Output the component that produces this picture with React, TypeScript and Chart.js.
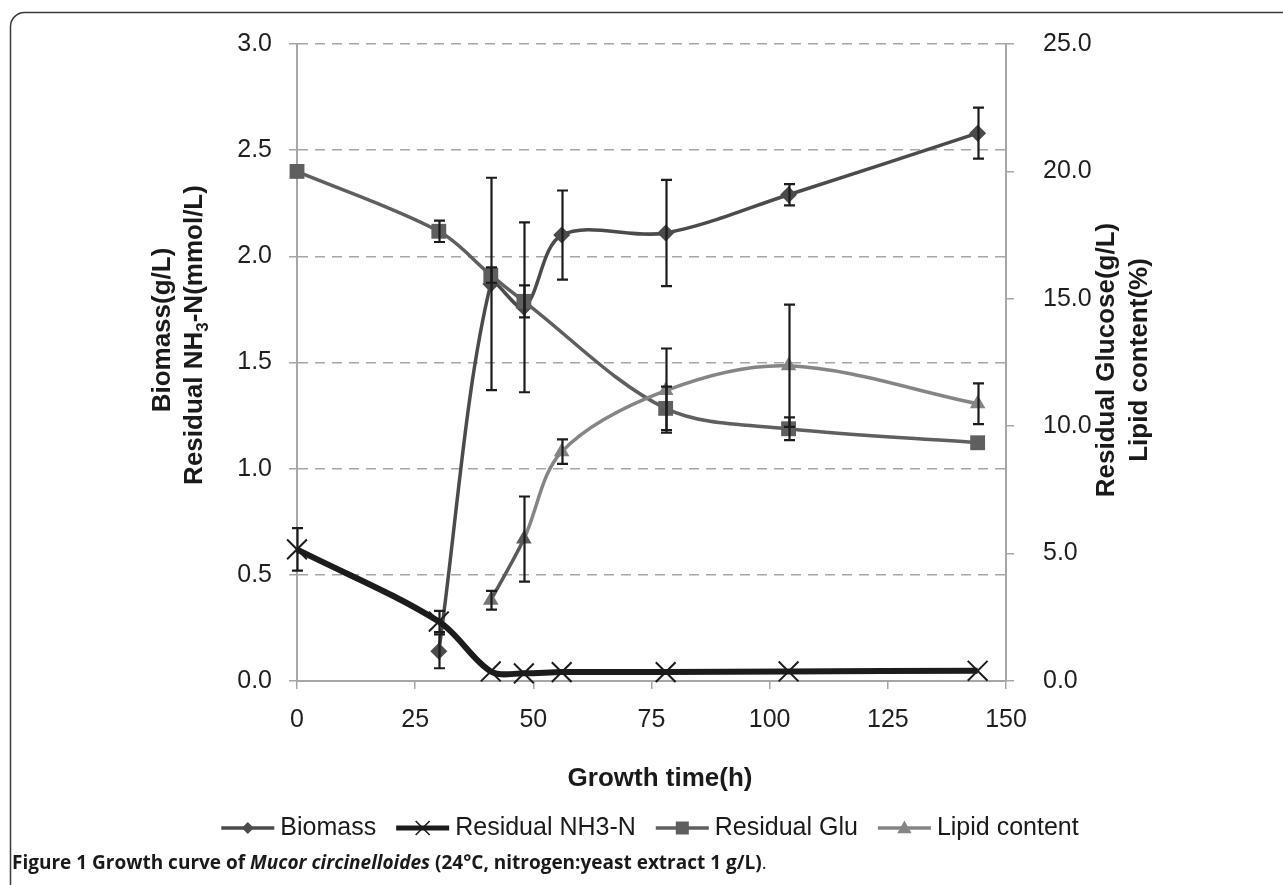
import React, { useEffect, useRef } from 'react';
import { Chart, registerables } from 'chart.js';

Chart.register(...registerables);

// ---- data ----
const biomassTimes = [30, 41, 48, 56, 78, 104, 144];
const biomassValues = [0.14, 1.87, 1.76, 2.1, 2.11, 2.29, 2.58];
const biomassErrors = [0.08, 0.5, 0.4, 0.21, 0.25, 0.05, 0.12];

const nh3Times = [0, 30, 41, 48, 56, 78, 104, 144];
const nh3Values = [0.62, 0.28, 0.045, 0.036, 0.042, 0.042, 0.045, 0.048];
const nh3Errors = [0.1, 0.05, 0, 0, 0, 0, 0, 0];

const gluTimes = [0, 30, 41, 48, 78, 104, 144];
const gluValues = [20.0, 17.65, 15.93, 14.9, 10.7, 9.9, 9.35];
const gluErrors = [0, 0.42, 0.3, 0.63, 0.85, 0.45, 0];

const lipidTimes = [41, 48, 56, 78, 104, 144];
const lipidValues = [3.17, 5.57, 9.0, 11.4, 12.37, 10.88];
const lipidErrors = [0.37, 1.67, 0.48, 1.65, 2.4, 0.8];

const seriesNames = ['Biomass', 'Residual NH3-N', 'Residual Glu', 'Lipid content'];
const xTitle = 'Growth time(h)';
const leftTitleLine1 = 'Biomass(g/L)';
const rightTitleLines = ['Residual Glucose(g/L)', 'Lipid content(%)'];

const W = 1283;
const H = 885;
const AREA = { left: 297, right: 1006, top: 39, bottom: 681 };

const toPoints = (xs: number[], ys: number[]) => xs.map((x, i) => ({ x, y: ys[i] }));

const FONT = '"Liberation Sans", Arial, sans-serif';

function drawMarker(ctx: CanvasRenderingContext2D, style: string, x: number, y: number, r: number, color: string, lw: number) {
  ctx.save();
  ctx.fillStyle = color;
  ctx.strokeStyle = color;
  ctx.lineWidth = lw;
  ctx.beginPath();
  if (style === 'rectRot') {
    ctx.moveTo(x, y - r);
    ctx.lineTo(x + r, y);
    ctx.lineTo(x, y + r);
    ctx.lineTo(x - r, y);
    ctx.closePath();
    ctx.fill();
  } else if (style === 'rect') {
    ctx.rect(x - r, y - r, 2 * r, 2 * r);
    ctx.fill();
  } else if (style === 'triangle') {
    ctx.moveTo(x, y - r);
    ctx.lineTo(x + r * 0.95, y + r * 0.7);
    ctx.lineTo(x - r * 0.95, y + r * 0.7);
    ctx.closePath();
    ctx.fill();
  } else if (style === 'crossRot') {
    ctx.moveTo(x - r, y - r);
    ctx.lineTo(x + r, y + r);
    ctx.moveTo(x + r, y - r);
    ctx.lineTo(x - r, y + r);
    ctx.stroke();
  }
  ctx.restore();
}

const errorBarPlugin = {
  id: 'errorBars',
  afterDatasetsDraw(chart: any) {
    const ctx = chart.ctx as CanvasRenderingContext2D;
    const xScale = chart.scales.x;
    chart.data.datasets.forEach((ds: any) => {
      const errs: number[] | undefined = ds.errorValues;
      if (!errs) return;
      const yScale = chart.scales[ds.yAxisID || 'y'];
      ds.data.forEach((pt: any, i: number) => {
        const e = errs[i];
        if (!e) return;
        const px = Math.round(xScale.getPixelForValue(pt.x)) + 0.5;
        const top = yScale.getPixelForValue(pt.y + e);
        const bot = yScale.getPixelForValue(pt.y - e);
        ctx.save();
        ctx.strokeStyle = '#1c1c1c';
        ctx.lineWidth = 2.2;
        ctx.beginPath();
        ctx.moveTo(px, top);
        ctx.lineTo(px, bot);
        ctx.moveTo(px - 5.5, top);
        ctx.lineTo(px + 5.5, top);
        ctx.moveTo(px - 5.5, bot);
        ctx.lineTo(px + 5.5, bot);
        ctx.stroke();
        ctx.restore();
      });
    });
  },
};

type Run = { text: string; font: string; dy?: number };

function drawRuns(ctx: CanvasRenderingContext2D, runs: Run[], x: number, y: number, align: 'left' | 'center') {
  let total = 0;
  const widths = runs.map((r) => {
    ctx.font = r.font;
    const w = ctx.measureText(r.text).width;
    total += w;
    return w;
  });
  let cx = align === 'center' ? x - total / 2 : x;
  runs.forEach((r, i) => {
    ctx.font = r.font;
    ctx.textAlign = 'left';
    ctx.fillText(r.text, cx, y + (r.dy || 0));
    cx += widths[i];
  });
}

const decorPlugin = {
  id: 'decor',
  afterDraw(chart: any) {
    const ctx = chart.ctx as CanvasRenderingContext2D;
    ctx.save();
    // outer rounded frame
    ctx.strokeStyle = '#3a3a3a';
    ctx.lineWidth = 1.5;
    ctx.beginPath();
    (ctx as any).roundRect(10.5, 12.5, 1320, 920, 14);
    ctx.stroke();

    ctx.fillStyle = '#1a1a1a';
    ctx.textBaseline = 'middle';
    const bold = `bold 26px ${FONT}`;

    // left title (rotated)
    ctx.save();
    ctx.translate(163, 330);
    ctx.rotate(-Math.PI / 2);
    drawRuns(ctx, [{ text: leftTitleLine1, font: bold }], 0, 0, 'center');
    ctx.restore();
    ctx.save();
    ctx.translate(195, 335);
    ctx.rotate(-Math.PI / 2);
    drawRuns(
      ctx,
      [
        { text: 'Residual NH', font: bold },
        { text: '3', font: `bold 17px ${FONT}`, dy: 8 },
        { text: '-N(mmol/L)', font: bold },
      ],
      0,
      0,
      'center'
    );
    ctx.restore();

    // right title
    [1107, 1140].forEach((cx, i) => {
      ctx.save();
      ctx.translate(cx, 360);
      ctx.rotate(-Math.PI / 2);
      drawRuns(ctx, [{ text: rightTitleLines[i], font: bold }], 0, 0, 'center');
      ctx.restore();
    });

    // x title
    drawRuns(ctx, [{ text: xTitle, font: bold }], 660, 779, 'center');

    // legend
    const legendFont = `25px ${FONT}`;
    ctx.font = legendFont;
    const symW = 53;
    const gapSymText = 6;
    const gapItems = 20;
    const widths = seriesNames.map((n) => ctx.measureText(n).width);
    const total = widths.reduce((a, w) => a + symW + gapSymText + w, 0) + gapItems * (seriesNames.length - 1);
    let lx = 650 - total / 2;
    const ly = 828;
    chart.data.datasets.forEach((ds: any, i: number) => {
      ctx.save();
      ctx.strokeStyle = ds.borderColor;
      ctx.lineWidth = ds.legendLineWidth;
      ctx.beginPath();
      ctx.moveTo(lx, ly);
      ctx.lineTo(lx + symW, ly);
      ctx.stroke();
      ctx.restore();
      drawMarker(ctx, ds.pointStyle, lx + symW / 2, ly, ds.legendMarkerSize, ds.legendMarkerColor, 1.6);
      ctx.fillStyle = '#1a1a1a';
      ctx.font = legendFont;
      ctx.textAlign = 'left';
      ctx.fillText(seriesNames[i], lx + symW + gapSymText, ly);
      lx += symW + gapSymText + widths[i] + gapItems;
    });

    // caption
    ctx.textBaseline = 'alphabetic';
    ctx.fillStyle = '#1a1a1a';
    const cs = 19;
    const cb = `bold ${cs}px "Open Sans", ${FONT}`;
    drawRuns(
      ctx,
      [
        { text: 'Figure 1 Growth curve of ', font: cb },
        { text: 'Mucor circinelloides', font: `italic bold ${cs}px "Open Sans", ${FONT}` },
        { text: ' (24°C, nitrogen:yeast extract 1 g/L)', font: cb },
        { text: '.', font: `${cs}px "Open Sans", ${FONT}` },
      ],
      12,
      869,
      'left'
    );
    ctx.restore();
  },
};

export default function App() {
  const ref = useRef<HTMLCanvasElement | null>(null);

  useEffect(() => {
    if (!ref.current) return;
    const axisColor = '#a6a6a6';
    const tickFont = { family: FONT, size: 25 };
    const chart = new Chart(ref.current, {
      type: 'line',
      data: {
        datasets: [
          {
            label: seriesNames[0],
            data: toPoints(biomassTimes, biomassValues),
            errorValues: biomassErrors,
            yAxisID: 'y',
            borderColor: '#4b4b4b',
            backgroundColor: '#4b4b4b',
            borderWidth: 3.5,
            tension: 0.33,
            pointStyle: 'rectRot',
            pointRadius: 8.5,
            pointBorderWidth: 0,
            order: 3,
            clip: false,
            legendLineWidth: 3.5,
            legendMarkerSize: 6,
            legendMarkerColor: '#4b4b4b',
          } as any,
          {
            label: seriesNames[1],
            data: toPoints(nh3Times, nh3Values),
            errorValues: nh3Errors,
            yAxisID: 'y',
            borderColor: '#1c1c1c',
            backgroundColor: '#1c1c1c',
            borderWidth: 6,
            tension: 0.33,
            pointStyle: 'crossRot',
            pointRadius: 14,
            pointBorderWidth: 2,
            pointBorderColor: '#1c1c1c',
            order: 2,
            clip: false,
            legendLineWidth: 5,
            legendMarkerSize: 7,
            legendMarkerColor: '#1c1c1c',
          } as any,
          {
            label: seriesNames[2],
            data: toPoints(gluTimes, gluValues),
            errorValues: gluErrors,
            yAxisID: 'y1',
            borderColor: '#5f5f5f',
            backgroundColor: '#5f5f5f',
            borderWidth: 3.5,
            tension: 0.33,
            pointStyle: 'rect',
            pointRadius: 10.5,
            pointBorderWidth: 0,
            order: 1,
            clip: false,
            legendLineWidth: 3.5,
            legendMarkerSize: 6.5,
            legendMarkerColor: '#5f5f5f',
          } as any,
          {
            label: seriesNames[3],
            data: toPoints(lipidTimes, lipidValues),
            errorValues: lipidErrors,
            yAxisID: 'y1',
            borderColor: '#858585',
            backgroundColor: '#858585',
            pointBackgroundColor: ['#767676', '#5a5a5a', '#858585', '#858585', '#858585', '#858585'],
            segment: {
              borderColor: (c: any) => (c.p0DataIndex === 0 ? '#5a5a5a' : '#858585'),
            },
            borderWidth: 3.5,
            tension: 0.33,
            pointStyle: 'triangle',
            pointRadius: 9,
            pointBorderWidth: 0,
            order: 0,
            clip: false,
            legendLineWidth: 3.5,
            legendMarkerSize: 7.5,
            legendMarkerColor: '#858585',
          } as any,
        ],
      },
      options: {
        animation: false,
        responsive: false,
        devicePixelRatio: 1,
        layout: { padding: { top: AREA.top, left: 0, right: 0, bottom: 0 } },
        plugins: {
          legend: { display: false },
          title: { display: false },
          tooltip: { enabled: false },
        },
        scales: {
          x: {
            type: 'linear',
            position: 'bottom',
            min: 0,
            max: 150,
            ticks: { stepSize: 25, font: tickFont, color: '#1f1f1f', padding: 16, maxRotation: 0 },
            grid: { drawOnChartArea: false, drawTicks: true, tickLength: 8, color: axisColor, lineWidth: 1.5 },
            border: { display: true, color: axisColor, width: 2 },
            afterFit: (s: any) => {
              s.height = H - AREA.bottom;
            },
          },
          y: {
            type: 'linear',
            position: 'left',
            min: 0,
            max: 3,
            ticks: {
              stepSize: 0.5,
              font: tickFont,
              color: '#1f1f1f',
              padding: 17,
              callback: (v: any) => Number(v).toFixed(1),
            },
            grid: { drawOnChartArea: true, drawTicks: true, tickLength: 8, color: axisColor, lineWidth: 1.5 },
            border: { display: true, color: axisColor, width: 2, dash: [10, 7] },
            afterFit: (s: any) => {
              s.width = AREA.left;
            },
          },
          y1: {
            type: 'linear',
            position: 'right',
            min: 0,
            max: 25,
            ticks: {
              stepSize: 5,
              font: tickFont,
              color: '#1f1f1f',
              padding: 29,
              callback: (v: any) => Number(v).toFixed(1),
            },
            grid: { drawOnChartArea: false, drawTicks: true, tickLength: 8, color: axisColor, lineWidth: 1.5 },
            border: { display: true, color: axisColor, width: 2 },
            afterFit: (s: any) => {
              s.width = W - AREA.right;
            },
          },
        },
      } as any,
      plugins: [errorBarPlugin, decorPlugin],
    });
    return () => chart.destroy();
  }, []);

  return (
    <div style={{ position: 'absolute', left: 0, top: 0, width: W, height: H, overflow: 'hidden', background: '#fff' }}>
      <canvas ref={ref} width={W} height={H} style={{ display: 'block', width: W, height: H }} />
    </div>
  );
}
